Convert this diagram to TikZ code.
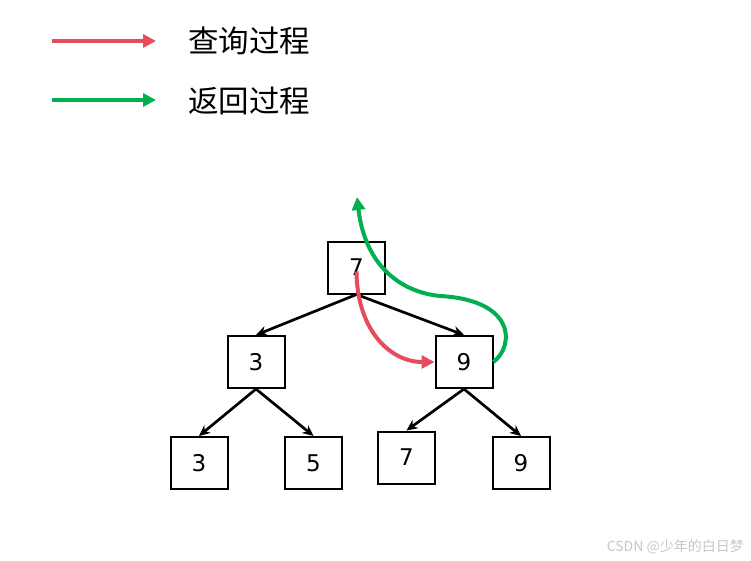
\documentclass[tikz,border=0pt]{standalone}
\usepackage{fontspec}
\setmainfont{Noto Sans CJK SC}
\newfontfamily\cifras{DejaVu Sans}
\usetikzlibrary{arrows.meta,positioning}

\definecolor{consulta}{RGB}{230,76,94}
\definecolor{retorno}{RGB}{0,176,80}

\tikzset{
  caja/.style={draw,line width=2pt,minimum width=57pt,minimum height=52pt,
    inner sep=0pt,font=\cifras\fontsize{23}{23}\selectfont},
  rama/.style={line width=2.7pt,-{Stealth[length=11pt,width=10pt]}},
  flecha/.style={line width=4pt,-{Triangle[length=13pt,width=13pt]}},
  leyenda/.style={anchor=west,inner sep=0pt,font=\fontsize{30.5}{30.5}\selectfont}
}

\begin{document}
\begin{tikzpicture}[x=1pt,y=1pt]

        \useasboundingbox (0,0) rectangle (751,-561);

        % Leyenda
        \coordinate (l1a) at (52,-41);
        \coordinate (l1b) at (156,-41);
        \coordinate (l2a) at (52,-100);
        \coordinate (l2b) at (156,-100);
        \draw[flecha,consulta,line width=3.5pt] (l1a) -- (l1b);
        \draw[flecha,retorno,line width=3.5pt] (l2a) -- (l2b);
        \node[leyenda] (t1) at (188,-41) {查询过程};
        \node[leyenda] (t2) at (188,-101) {返回过程};

        % Arbol
        \node[caja] (raiz) at (356.5,-267.5) {7};
        \node[caja] (izq) at (256,-362) {3};
        \node[caja] (der) at (464,-362) {9};
        \node[caja] (h1) at (199,-463) {3};
        \node[caja] (h2) at (313.5,-463) {5};
        \node[caja] (h3) at (406.5,-457.5) {7};
        \node[caja] (h4) at (521,-463) {9};

        \draw[rama] (raiz.south) -- (izq.north);
        \draw[rama] (raiz.south) -- (der.north);
        \draw[rama] (izq.south) -- (h1.north);
        \draw[rama] (izq.south) -- (h2.north);
        \draw[rama] (der.south) -- (h3.north);
        \draw[rama] (der.south) -- (h4.north);

        % Consulta y retorno
        \draw[flecha,consulta] ([yshift=-4pt]raiz.center)
             .. controls (357,-330) and (390,-362) .. (der.west);

        \coordinate (punta) at (357,-197);
        \draw[flecha,retorno] (der.east)
             .. controls (515,-345) and (515,-300) .. (440,-296)
             .. controls (400,-292) and (365,-265) .. (punta);

        % Marca
        \node[anchor=east,inner sep=0pt,text=black!22,font=\fontsize{14}{14}\selectfont]
             (marca) at (744,-547) {CSDN @少年的白日梦};

    \end{tikzpicture}
\end{document}
